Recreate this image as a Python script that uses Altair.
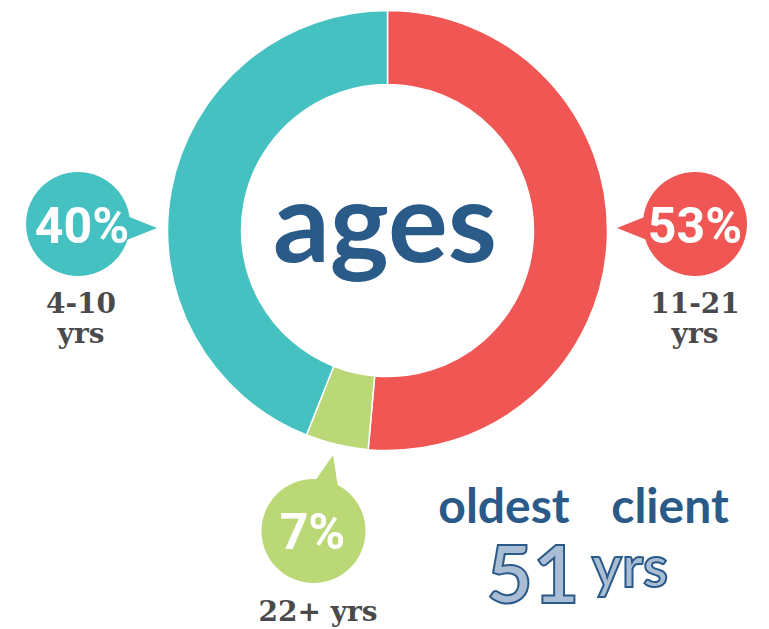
import altair as alt
import pandas as pd

# ---------------- data ----------------
groups = ["11-21 yrs", "22+ yrs", "4-10 yrs"]
share_pct = ["53%", "7%", "40%"]          # printed percentages
arc_share = [51.4, 4.6, 44.0]             # slice sizes as drawn in the ring
group_colors = ["#F05653", "#BAD876", "#46C1C1"]
range_line1 = ["11-21", "22+ yrs", "4-10"]
range_line2 = ["yrs", "", "yrs"]
title_word = ["ages"]
oldest_words = ["oldest", "client"]
oldest_age = ["51"]
oldest_unit = ["yrs"]

# ---------------- layout (pixels) ----------------
CX, CY = 387.5, 230.5
R_OUT, R_IN = 220, 146
bubble_x = [695, 313.5, 78]
bubble_y = [224, 531, 224]
BUBBLE_D = 104
tip_x = [617, 333, 157]
tip_y = [228, 455, 228]
tip_angle = [180, 283, 0]
pct_x = [695, 312.5, 82]
pct_y = [243, 549, 243]
line1_x = [695, 318, 81]
line1_y = [313, 621, 313]
line2_y = [343, 0, 343]

BLUE = "#2A5A88"
LIGHT_BLUE = "#A9BED4"
GREY = "#4A4A4C"
PCT_FONT = "Roboto"
LABEL_FONT = "DejaVu Serif"
HAND_FONT = "Lato"

color_enc = alt.Color("group:N", scale=alt.Scale(domain=groups, range=group_colors), legend=None)


def px(field):
    return alt.X(f"{field}:Q", scale=None, axis=None)


def py(field):
    return alt.Y(f"{field}:Q", scale=None, axis=None)


# ring
pie_df = pd.DataFrame({"group": groups, "share": arc_share, "order": [0, 1, 2]})
ring = alt.Chart(pie_df).mark_arc(
    innerRadius=R_IN, outerRadius=R_OUT, stroke="white", strokeWidth=1.5
).encode(
    theta=alt.Theta("share:Q", stack=True),
    order=alt.Order("order:Q"),
    color=color_enc,
    x=alt.value(CX),
    y=alt.value(CY),
)

# bubbles
bub_df = pd.DataFrame({"group": groups, "x": bubble_x, "y": bubble_y})
bubbles = alt.Chart(bub_df).mark_circle(
    size=BUBBLE_D ** 2, opacity=1
).encode(x=px("x"), y=py("y"), color=color_enc)

ptr_df = pd.DataFrame({"group": groups, "x": tip_x, "y": tip_y, "angle": tip_angle})
pointers = alt.Chart(ptr_df).mark_point(
    shape="M0,0L-2,-0.8L-2,0.8Z", filled=True, size=1600, opacity=1, strokeWidth=0
).encode(x=px("x"), y=py("y"), color=color_enc,
         angle=alt.Angle("angle:Q", scale=None))

pct_df = pd.DataFrame({"label": share_pct, "x": pct_x, "y": pct_y})
pct_text = alt.Chart(pct_df).mark_text(
    font=PCT_FONT, fontSize=50, fontWeight="bold", color="white",
    baseline="alphabetic", align="center"
).encode(x=px("x"), y=py("y"), text="label:N")

lab_df = pd.DataFrame({
    "label": range_line1 + range_line2,
    "x": line1_x + line1_x,
    "y": line1_y + line2_y,
})
lab_df = lab_df[lab_df["label"] != ""]
lab_text = alt.Chart(lab_df).mark_text(
    font=LABEL_FONT, fontSize=28, fontWeight="bold", color=GREY,
    baseline="alphabetic", align="center"
).encode(x=px("x"), y=py("y"), text="label:N")


def hand_text(words, xs, ys, size, fill=BLUE, stroke=None, weight="bold"):
    df = pd.DataFrame({"label": words, "x": xs, "y": ys})
    kw = dict(font=HAND_FONT, fontSize=size, fontWeight=weight, color=fill,
              baseline="alphabetic", align="center")
    if stroke:
        kw.update(stroke=stroke, strokeWidth=2)
    return alt.Chart(df).mark_text(**kw).encode(x=px("x"), y=py("y"), text="label:N")


title_text = hand_text(title_word, [385], [262], 112)
oldest_text = hand_text(oldest_words, [504, 670], [523, 523], 48)
age_text = hand_text(oldest_age, [533], [603], 80, fill=LIGHT_BLUE, stroke=BLUE)
unit_text = hand_text(oldest_unit, [630], [587], 57, fill=LIGHT_BLUE, stroke=BLUE)

chart = alt.layer(
    ring, pointers, bubbles, pct_text, lab_text,
    title_text, oldest_text, age_text, unit_text
).properties(
    width=769, height=629, padding=0, autosize="none"
).configure_view(stroke=None)

chart.save("out.html", embed_options={"renderer": "svg", "actions": False})
